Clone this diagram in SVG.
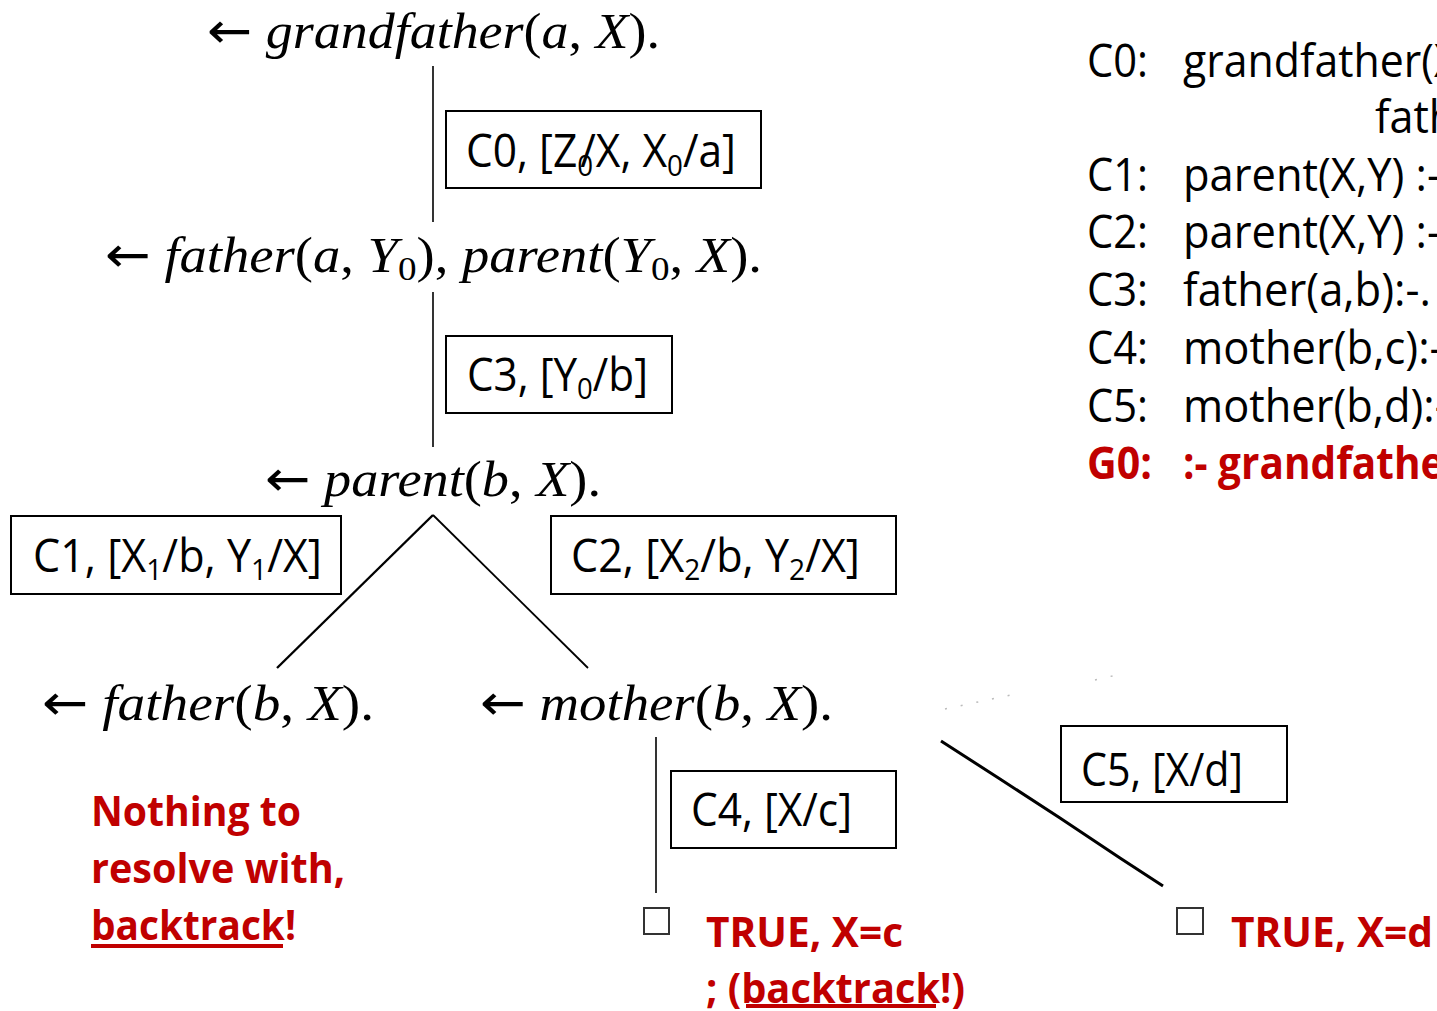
<svg xmlns="http://www.w3.org/2000/svg" width="1437" height="1011" viewBox="0 0 1437 1011">
<style>
.m{font-family:"Liberation Serif",serif;font-size:50px;fill:#000}
.i{font-style:italic}
.ar{font-family:"DejaVu Sans",sans-serif;font-style:normal;font-size:50px}
.sub{font-size:34px}
.bx rect{fill:#fff;stroke:#000;stroke-width:2}
.bt{font-family:"Open Sans","Liberation Sans",sans-serif;font-size:46px;fill:#000}
.bs{font-size:30px}
.rl{font-family:"Open Sans","Liberation Sans",sans-serif;font-size:45px;fill:#000}
.rb{font-weight:bold;fill:#C00000}
.red{font-family:"Open Sans","Liberation Sans",sans-serif;font-size:42px;font-weight:bold;fill:#C00000}
.ln{stroke:#000;fill:none}
.sq{fill:#fff;stroke:#333;stroke-width:2}
</style>
<rect width="1437" height="1011" fill="#fff"/>
<g id="connectors">
  <line class="ln" x1="433" y1="66" x2="433" y2="222" stroke-width="1.6"/>
  <line class="ln" x1="433" y1="292" x2="433" y2="447" stroke-width="1.6"/>
  <line class="ln" x1="433" y1="515" x2="277" y2="668" stroke-width="2.4"/>
  <line class="ln" x1="433" y1="515" x2="588" y2="668" stroke-width="1.8"/>
  <line class="ln" x1="656" y1="737" x2="656" y2="893" stroke-width="1.6"/>
  <path class="ln" d="M941 741 L1000 779 L1060 818 L1120 858 L1163 886" stroke-width="3"/>
  <path d="M945 709 L1020 693 M1095 680 L1125 673" stroke="#bbb" stroke-width="1.5" fill="none" stroke-dasharray="2 14"/>
</g>
<g id="n-goal0">
  <text class="m" x="207" y="48" textLength="453" lengthAdjust="spacingAndGlyphs"><tspan class="ar">←</tspan><tspan> </tspan><tspan class="i">grandfather</tspan><tspan>(</tspan><tspan class="i">a</tspan><tspan>, </tspan><tspan class="i">X</tspan><tspan>).</tspan></text>
</g>
<g id="n-c0" class="bx">
  <rect x="446" y="111" width="315" height="77"/>
  <text class="bt" x="466" y="167" font-size="48" textLength="270" lengthAdjust="spacingAndGlyphs">C0, [Z<tspan class="bs" dy="9">0</tspan><tspan dx="-14" dy="-9">/X, X</tspan><tspan class="bs" dy="9">0</tspan><tspan dy="-9">/a]</tspan></text>
</g>
<g id="n-goal1">
  <text class="m" x="105" y="272" textLength="657" lengthAdjust="spacingAndGlyphs"><tspan class="ar">←</tspan><tspan> </tspan><tspan class="i">father</tspan><tspan>(</tspan><tspan class="i">a</tspan><tspan>, </tspan><tspan class="i">Y</tspan><tspan class="sub" dy="8">0</tspan><tspan dy="-8">), </tspan><tspan class="i">parent</tspan><tspan>(</tspan><tspan class="i">Y</tspan><tspan class="sub" dy="8">0</tspan><tspan dy="-8">, </tspan><tspan class="i">X</tspan><tspan>).</tspan></text>
</g>
<g id="n-c3" class="bx">
  <rect x="446" y="336" width="226" height="77"/>
  <text class="bt" x="467" y="391" font-size="42" textLength="181" lengthAdjust="spacingAndGlyphs">C3, [Y<tspan class="bs" dy="8">0</tspan><tspan dy="-8">/b]</tspan></text>
</g>
<g id="n-goal2">
  <text class="m" x="265" y="496" textLength="336" lengthAdjust="spacingAndGlyphs"><tspan class="ar">←</tspan><tspan> </tspan><tspan class="i">parent</tspan><tspan>(</tspan><tspan class="i">b</tspan><tspan>, </tspan><tspan class="i">X</tspan><tspan>).</tspan></text>
</g>
<g id="n-c1" class="bx">
  <rect x="11" y="516" width="330" height="78"/>
  <text class="bt" x="33" y="572" font-size="44" textLength="289" lengthAdjust="spacingAndGlyphs">C1, [X<tspan class="bs" dy="8">1</tspan><tspan dy="-8">/b, Y</tspan><tspan class="bs" dy="8">1</tspan><tspan dy="-8">/X]</tspan></text>
</g>
<g id="n-c2" class="bx">
  <rect x="551" y="516" width="345" height="78"/>
  <text class="bt" x="571" y="572" font-size="44" textLength="289" lengthAdjust="spacingAndGlyphs">C2, [X<tspan class="bs" dy="8">2</tspan><tspan dy="-8">/b, Y</tspan><tspan class="bs" dy="8">2</tspan><tspan dy="-8">/X]</tspan></text>
</g>
<g id="n-goal3">
  <text class="m" x="42" y="720" textLength="332" lengthAdjust="spacingAndGlyphs"><tspan class="ar">←</tspan><tspan> </tspan><tspan class="i">father</tspan><tspan>(</tspan><tspan class="i">b</tspan><tspan>, </tspan><tspan class="i">X</tspan><tspan>).</tspan></text>
</g>
<g id="n-goal4">
  <text class="m" x="480" y="720" textLength="353" lengthAdjust="spacingAndGlyphs"><tspan class="ar">←</tspan><tspan> </tspan><tspan class="i">mother</tspan><tspan>(</tspan><tspan class="i">b</tspan><tspan>, </tspan><tspan class="i">X</tspan><tspan>).</tspan></text>
</g>
<g id="n-c4" class="bx">
  <rect x="671" y="771" width="225" height="77"/>
  <text class="bt" x="691" y="826" font-size="45" textLength="161" lengthAdjust="spacingAndGlyphs">C4, [X/c]</text>
</g>
<g id="n-c5" class="bx">
  <rect x="1061" y="726" width="226" height="76"/>
  <text class="bt" x="1081" y="786" font-size="46" textLength="162" lengthAdjust="spacingAndGlyphs">C5, [X/d]</text>
</g>
<g id="n-fail">
  <text class="red" x="91" y="826" textLength="210" lengthAdjust="spacingAndGlyphs">Nothing to</text>
  <text class="red" x="91" y="883" textLength="254" lengthAdjust="spacingAndGlyphs">resolve with,</text>
  <text class="red" x="91" y="940" textLength="205" lengthAdjust="spacingAndGlyphs">backtrack!</text>
  <rect x="91" y="944" width="192" height="4" fill="#C00000"/>
</g>
<g id="n-true-c">
  <rect class="sq" x="644" y="908" width="25" height="26"/>
  <text class="red" x="706" y="947" textLength="197" lengthAdjust="spacingAndGlyphs">TRUE, X=c</text>
  <text class="red" x="706" y="1003" textLength="259" lengthAdjust="spacingAndGlyphs">; (backtrack!)</text>
  <rect x="746" y="1004" width="190" height="4" fill="#C00000"/>
</g>
<g id="n-true-d">
  <rect class="sq" x="1177" y="908" width="26" height="26"/>
  <text class="red" x="1231" y="947" textLength="202" lengthAdjust="spacingAndGlyphs">TRUE, X=d</text>
</g>
<g id="n-clauses">
  <text class="rl" x="1087" y="77" textLength="61" lengthAdjust="spacingAndGlyphs">C0:</text>
  <text class="rl" x="1183" y="77" textLength="360" lengthAdjust="spacingAndGlyphs">grandfather(X,Z) :-</text>
  <text class="rl" x="1375" y="133" textLength="461" lengthAdjust="spacingAndGlyphs">father(X,Y), parent(Y,Z).</text>
  <text class="rl" x="1087" y="191" textLength="61" lengthAdjust="spacingAndGlyphs">C1:</text>
  <text class="rl" x="1183" y="191" textLength="258" lengthAdjust="spacingAndGlyphs">parent(X,Y) :-</text>
  <text class="rl" x="1087" y="248" textLength="61" lengthAdjust="spacingAndGlyphs">C2:</text>
  <text class="rl" x="1183" y="248" textLength="258" lengthAdjust="spacingAndGlyphs">parent(X,Y) :-</text>
  <text class="rl" x="1087" y="306" textLength="61" lengthAdjust="spacingAndGlyphs">C3:</text>
  <text class="rl" x="1183" y="306" textLength="248" lengthAdjust="spacingAndGlyphs">father(a,b):-.</text>
  <text class="rl" x="1087" y="364" textLength="61" lengthAdjust="spacingAndGlyphs">C4:</text>
  <text class="rl" x="1183" y="364" textLength="272" lengthAdjust="spacingAndGlyphs">mother(b,c):-.</text>
  <text class="rl" x="1087" y="422" textLength="61" lengthAdjust="spacingAndGlyphs">C5:</text>
  <text class="rl" x="1183" y="422" textLength="277" lengthAdjust="spacingAndGlyphs">mother(b,d):-.</text>
  <text class="rl rb" x="1087" y="479" textLength="65" lengthAdjust="spacingAndGlyphs">G0:</text>
  <text class="rl rb" x="1183" y="479" textLength="382" lengthAdjust="spacingAndGlyphs">:- grandfather(a,X).</text>
</g>
</svg>
